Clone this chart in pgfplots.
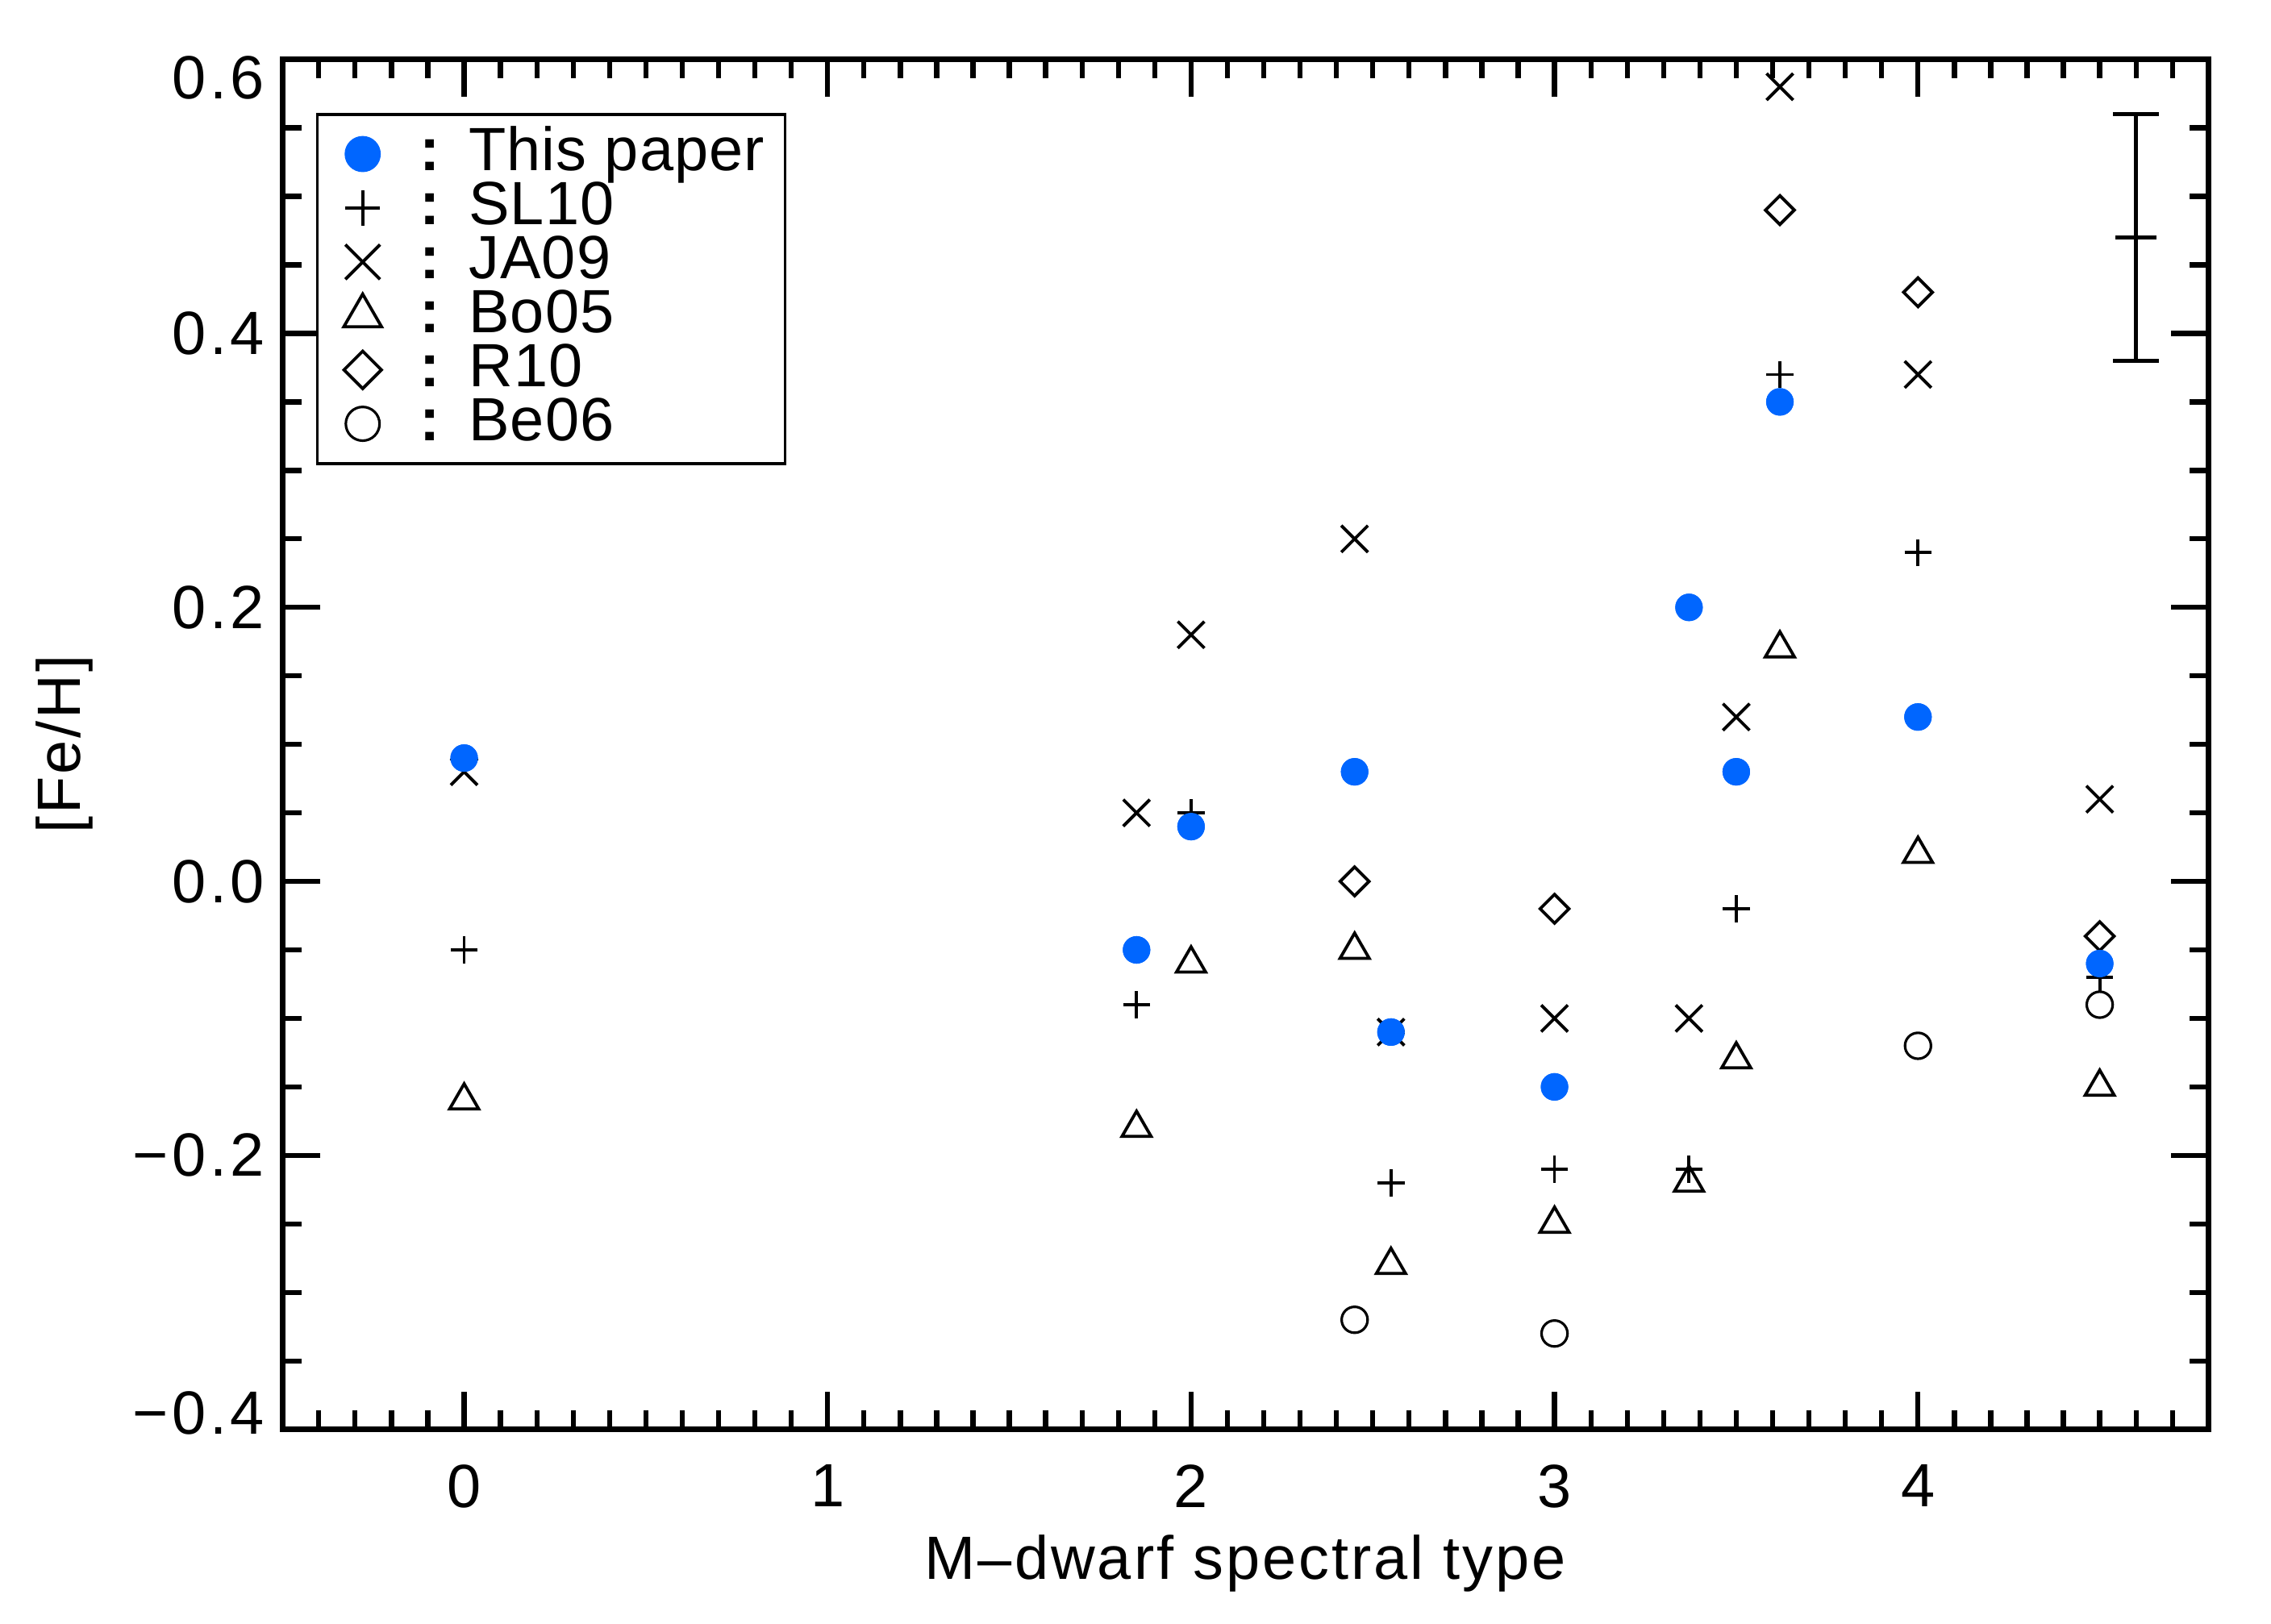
\documentclass[border=0pt]{standalone}
\usepackage{fontspec}
\setmainfont{Liberation Sans}[LetterSpace=6]
\newfontfamily\labfont{Liberation Sans}[LetterSpace=4]
\newfontfamily\legfont{Liberation Sans}[LetterSpace=1.5]
\usepackage{pgfplots}
\pgfplotsset{compat=1.18}
\definecolor{ourblue}{HTML}{0066FF}

\newcommand{\entry}[1]{\hspace{0.23cm}\textbf{:}\hspace{0.19cm}#1}

\begin{document}
\begin{tikzpicture}
\begin{axis}[
  name=main,
  scale only axis,
  width=13.3cm, height=9.46cm,
  xmin=-0.5, xmax=4.8, ymin=-0.4, ymax=0.6,
  xtick={0,1,2,3,4}, xticklabels={0,1,2,3,4},
  ytick={-0.4,-0.2,0,0.2,0.4,0.6},
  yticklabels={\raisebox{-0.3mm}[0pt][0pt]{−0.4},−0.2,0.0,0.2,0.4,\raisebox{-2.7mm}[0pt][0pt]{0.6}},
  minor xtick={-0.4,-0.3,-0.2,-0.1,0.1,0.2,0.3,0.4,0.5,0.6,0.7,0.8,0.9,1.1,1.2,1.3,1.4,1.5,1.6,1.7,1.8,1.9,2.1,2.2,2.3,2.4,2.5,2.6,2.7,2.8,2.9,3.1,3.2,3.3,3.4,3.5,3.6,3.7,3.8,3.9,4.1,4.2,4.3,4.4,4.5,4.6,4.7},
  minor ytick={-0.35,-0.3,-0.25,-0.15,-0.1,-0.05,0.05,0.1,0.15,0.25,0.3,0.35,0.45,0.5,0.55},
  tick align=inside, xtick pos=both, ytick pos=both,
  major tick length=0.26cm, minor tick length=0.13cm,
  axis line style={line width=1.1pt},
  every tick/.style={line width=1pt, black},
  tick label style={font=\fontsize{12}{14}\selectfont},
  xticklabel style={yshift=-0.12cm},
  xlabel={M–dwarf spectral type}, ylabel={[Fe/H]},
  label style={font=\labfont\fontsize{12}{14}\selectfont},
  xlabel style={at={(axis description cs:0.5,-0.098)}, anchor=center},
  ylabel style={at={(axis description cs:-0.113,0.5)}, anchor=center},
  legend style={at={(axis description cs:0.0173,0.961)}, anchor=north west,
    draw=black, line width=0.6pt, font=\legfont\fontsize{12}{12}\selectfont,
    nodes={inner xsep=1pt, inner ysep=0pt, text height=8.6pt, text depth=2pt},
    row sep=0pt, inner xsep=3pt, inner ysep=2.5pt},
  legend cell align=left,
  legend image code/.code={\path[draw=none, fill=none] (-0.16cm,0cm) -- (0cm,0cm); \draw[#1] plot coordinates {(0cm,0cm)};},
  legend image post style={scale=1.3},
]
\addplot[only marks, mark=*, mark size=2.5pt, color=ourblue] coordinates {
  (0,0.09) (1.85,-0.05) (2.0,0.04) (2.45,0.08) (2.55,-0.11) (3.0,-0.15)
  (3.37,0.20) (3.5,0.08) (3.62,0.35) (4.0,0.12) (4.5,-0.06)};
\addlegendentry{\entry{This paper}}
\addplot[only marks, mark=+, mark size=2.65pt, black, line width=0.6pt] coordinates {
  (0,-0.05) (1.85,-0.09) (2.0,0.05) (2.55,-0.11) (2.55,-0.22) (3.0,-0.21)
  (3.37,-0.21) (3.5,-0.02) (3.62,0.37) (4.0,0.24) (4.5,-0.07)};
\addlegendentry{\entry{SL10}}
\addplot[only marks, mark=x, mark size=3.7pt, black, line width=0.6pt] coordinates {
  (0,0.08) (1.85,0.05) (2.0,0.18) (2.45,0.25) (2.55,-0.11) (3.0,-0.10)
  (3.37,-0.10) (3.5,0.12) (3.62,0.58) (4.0,0.37) (4.5,0.06)};
\addlegendentry{\entry{JA09}}
\addplot[only marks, mark=triangle, mark size=3.3pt, black, line width=0.6pt] coordinates {
  (0,-0.16) (1.85,-0.18) (2.0,-0.06) (2.45,-0.05) (2.55,-0.28) (3.0,-0.25)
  (3.37,-0.22) (3.5,-0.13) (3.62,0.17) (4.0,0.02) (4.5,-0.15)};
\addlegendentry{\entry{Bo05}}
\addplot[only marks, mark=square, mark size=2pt, mark options={rotate=45}, black, line width=0.6pt] coordinates {
  (2.45,0.0) (3.0,-0.02) (3.62,0.49) (4.0,0.43) (4.5,-0.04)};
\addlegendentry{\entry{R10}}
\addplot[only marks, mark=o, mark size=2.55pt, black, line width=0.5pt] coordinates {
  (2.45,-0.32) (3.0,-0.33) (4.0,-0.12) (4.5,-0.09)};
\addlegendentry{\entry{Be06}}
% typical error bar
\addplot[forget plot, only marks, mark=-, mark size=4pt, black, line width=0.8pt,
  error bars/.cd, y dir=both, y explicit,
  error bar style={line width=0.8pt}, error mark options={rotate=90, mark size=4.5pt, line width=0.8pt}]
  coordinates {(4.6,0.47) +- (0,0.09)};
% blue points again on top
\addplot[forget plot, only marks, mark=*, mark size=2.5pt, color=ourblue] coordinates {
  (0,0.09) (1.85,-0.05) (2.0,0.04) (2.45,0.08) (2.55,-0.11) (3.0,-0.15)
  (3.37,0.20) (3.5,0.08) (3.62,0.35) (4.0,0.12) (4.5,-0.06)};
\end{axis}
\pgfresetboundingbox
\path ([xshift=-1.95cm,yshift=-1.34cm]main.south west) rectangle ([xshift=0.43cm,yshift=0.41cm]main.north east);
\end{tikzpicture}
\end{document}
